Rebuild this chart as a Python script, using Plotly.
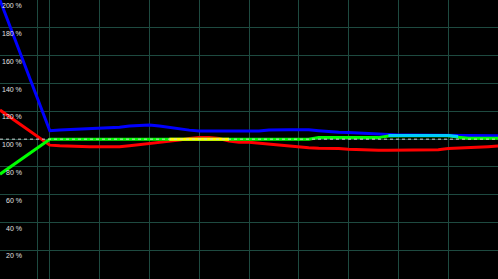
import numpy as np
import plotly.graph_objects as go

# sample times (0..100), one start sample then every 2 units
t = [0] + list(range(10, 101, 2))

blue = [200.0,
        106.1, 106.5, 106.8, 107.2, 107.6, 107.9, 108.3, 108.6, 109.4, 109.7,
        110.1, 109.4, 108.3, 107.2, 106.5, 105.8, 105.8, 105.8, 105.8, 105.8,
        105.8, 105.8, 106.5, 106.8, 106.8, 106.8, 106.8, 106.1, 105.4, 105.0,
        104.7, 104.3, 104.3, 104.0, 103.2, 102.9, 102.9, 102.9, 102.9, 102.9,
        102.9, 102.5, 102.5, 102.5, 102.5, 102.5]

red = [120.9,
       95.7, 95.3, 95.0, 94.6, 94.6, 94.6, 94.6, 94.6, 95.3, 96.0,
       97.1, 97.8, 98.6, 99.3, 100.4, 101.1, 101.1, 100.4, 98.6, 97.8,
       97.8, 97.1, 96.4, 95.7, 95.0, 94.6, 93.9, 93.5, 93.5, 93.2,
       92.8, 92.4, 92.1, 92.1, 92.1, 92.1, 92.1, 92.1, 92.1, 92.4,
       93.2, 93.5, 93.5, 93.9, 94.6, 95.0]

green = [74.8,
         100.0, 100.0, 100.0, 100.0, 100.0, 100.0, 100.0, 100.0, 100.0, 100.0,
         100.0, 100.0, 100.0, 100.0, 100.0, 100.0, 100.0, 100.0, 100.0, 100.0,
         100.0, 100.0, 100.0, 100.0, 100.0, 100.0, 100.0, 101.1, 101.1, 101.1,
         101.1, 101.1, 101.1, 101.1, 102.2, 102.5, 102.5, 102.5, 102.5, 102.5,
         102.5, 101.4, 100.7, 100.7, 100.7, 100.7]

grid_y = [0, 20, 40, 60, 80, 100, 120, 140, 160, 180, 200]
label_y = [200, 180, 160, 140, 120, 100, 80, 60, 40, 20]
grid_x = [7.5, 10, 20, 30, 40, 50, 60, 70, 80, 90]

tt = np.array(t, float)
b = np.array(blue)
r = np.array(red)
g = np.array(green)

# where two traces overlap, the display mixes their colours
yellow = np.where(np.abs(r - g) <= 1.5, g, np.nan)
yellow[0] = np.nan
cyan = np.where(np.abs(b - g) <= 1.2, (b + g) / 2, np.nan)
cyan[0] = np.nan

fig = go.Figure()
lw = 3
fig.add_trace(go.Scatter(x=tt, y=b, mode="lines", line=dict(color="#0000ff", width=lw)))
fig.add_trace(go.Scatter(x=tt, y=r, mode="lines", line=dict(color="#ff0000", width=lw)))
fig.add_trace(go.Scatter(x=tt, y=g, mode="lines", line=dict(color="#00ff00", width=lw)))
fig.add_trace(go.Scatter(x=tt, y=yellow, mode="lines", line=dict(color="#ffff00", width=lw),
                         connectgaps=False))
fig.add_trace(go.Scatter(x=tt, y=cyan, mode="lines", line=dict(color="#00ccff", width=lw),
                         connectgaps=False))
fig.add_trace(go.Scatter(x=[0, 100], y=[100, 100], mode="lines",
                         line=dict(color="#d0d0d0", width=1, dash="3px,3px")))

for v in label_y:
    fig.add_annotation(x=4.65, xref="x", y=v, yref="y", text=f"{v} %",
                       showarrow=False, xanchor="right", yanchor="top",
                       yshift=-1, borderpad=0,
                       font=dict(family="Liberation Sans", size=7, color="#e0e0e0"))

fig.update_layout(
    width=498, height=279,
    margin=dict(l=0, r=0, t=0, b=0),
    paper_bgcolor="#000000", plot_bgcolor="#000000",
    showlegend=False,
    xaxis=dict(range=[0, 100], tickvals=grid_x, showticklabels=False,
               showgrid=True, gridcolor="#1e4a40", gridwidth=1,
               zeroline=False, showline=False, ticks=""),
    yaxis=dict(range=[-0.6, 200.1], tickvals=grid_y, showticklabels=False,
               showgrid=True, gridcolor="#1e4a40", gridwidth=1,
               zeroline=False, showline=False, ticks=""),
)

fig.write_html("out.html")
